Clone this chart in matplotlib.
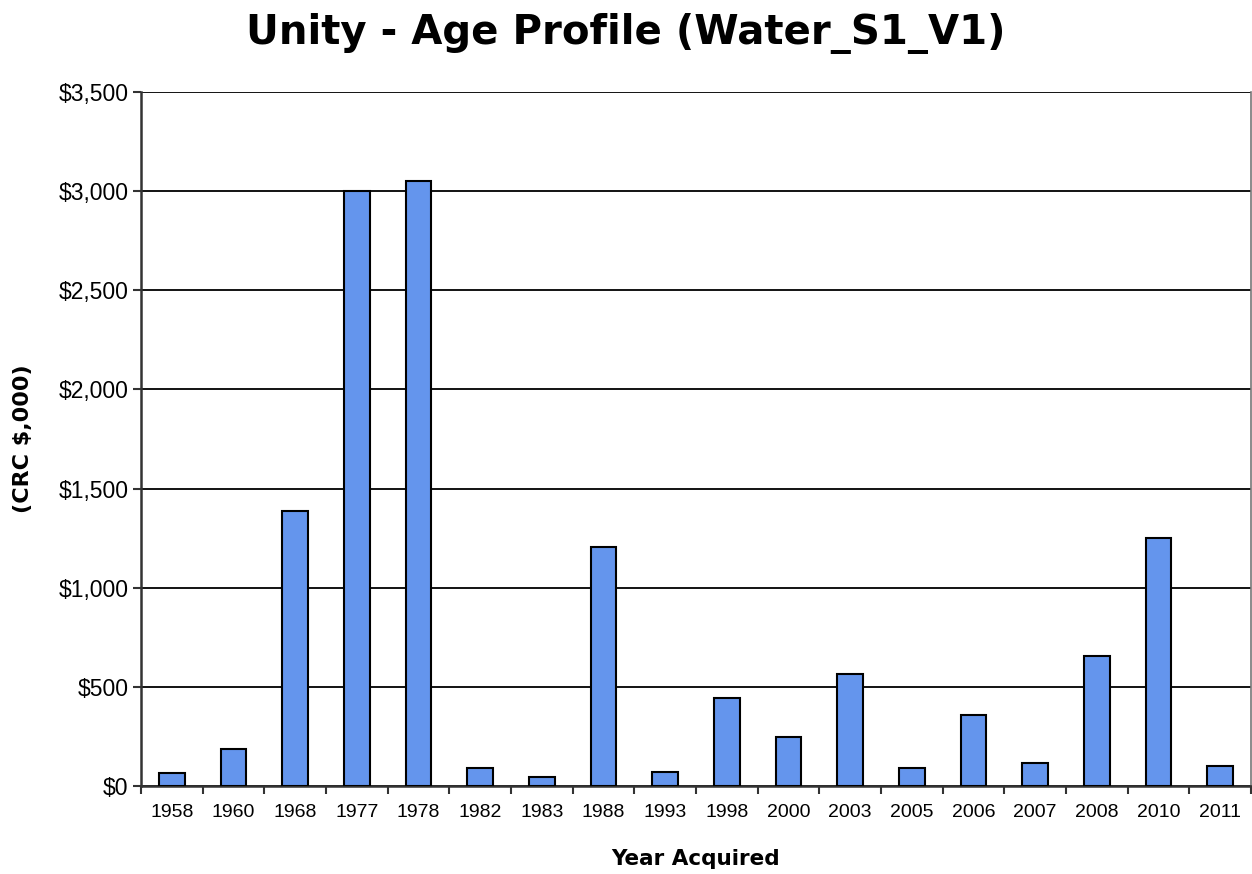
import matplotlib
matplotlib.use("Agg")
import matplotlib.pyplot as plt
import numpy as np
from matplotlib.ticker import FuncFormatter, FixedLocator

years = ["1958", "1960", "1968", "1977", "1978", "1982", "1983", "1988", "1993",
         "1998", "2000", "2003", "2005", "2006", "2007", "2008", "2010", "2011"]
crc = [64, 185, 1388, 3000, 3053, 91, 45, 1204, 72,
       445, 247, 565, 91, 358, 118, 657, 1250, 99]

fig = plt.figure(figsize=(12.52, 8.74), dpi=100)
ax = fig.add_axes([0.1126, 0.1007, 0.8866, 0.7940])

x = np.arange(len(years))
ax.bar(x, crc, width=0.42, color="#6495ED", edgecolor="black", linewidth=1.5, zorder=3)

ax.set_xlim(-0.5, len(years) - 0.5)
ax.set_ylim(0, 3500)
ax.set_yticks(np.arange(0, 3501, 500))
ax.yaxis.set_major_formatter(FuncFormatter(lambda v, p: "${:,.0f}".format(v)))
ax.grid(axis="y", color="black", linewidth=1.3, zorder=1)

# category labels centred, ticks between categories
ax.set_xticks(x)
ax.set_xticklabels(years)
ax.xaxis.set_minor_locator(FixedLocator(np.arange(-0.5, len(years), 1)))
ax.tick_params(axis="x", which="major", length=0, pad=13)
ax.tick_params(axis="x", which="minor", length=6, width=1.5, color="#333333")
ax.tick_params(axis="y", length=6, width=1.5, color="#333333", pad=3)
for lab in ax.get_xticklabels():
    lab.set_fontfamily("Liberation Sans")
    lab.set_fontsize(14)
for lab in ax.get_yticklabels():
    lab.set_fontfamily("Liberation Sans")
    lab.set_fontsize(16.5)

for s in ["left", "bottom"]:
    ax.spines[s].set_color("#333333")
    ax.spines[s].set_linewidth(1.8)
ax.spines["top"].set_visible(False)
ax.spines["right"].set_color("#777777")
ax.spines["right"].set_linewidth(1.2)

fig.suptitle("Unity - Age Profile (Water_S1_V1)", y=0.985, fontsize=29,
             fontweight="bold", fontfamily="DejaVu Sans")
ax.set_xlabel("Year Acquired", fontsize=15.5, fontweight="bold",
              fontfamily="DejaVu Sans", labelpad=20)
ax.set_ylabel("(CRC $,000)", fontsize=16, fontweight="bold",
              fontfamily="DejaVu Sans", labelpad=18)

fig.savefig("out.png", dpi=100)
